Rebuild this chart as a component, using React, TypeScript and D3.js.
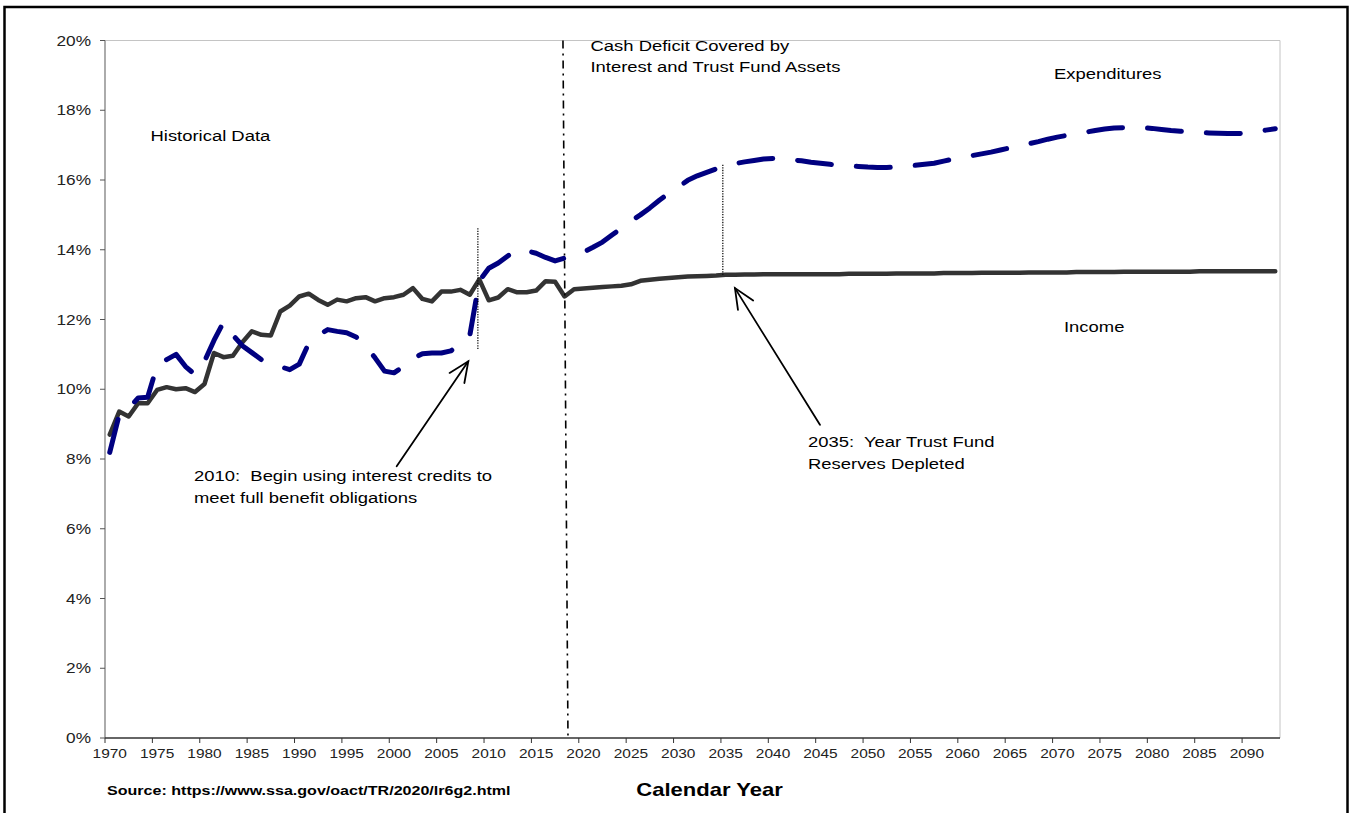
import * as d3 from "d3";

const width = 1351;
const height = 813;
const plotLeft = 105;
const plotRight = 1280;
const plotTop = 40.5;
const plotBottom = 738;

// lettering in the reference is drawn a little wider than plain Arial
const stretch = 1.19;
const font = "'Liberation Sans', Arial, sans-serif";

const navy = "#000080";
const charcoal = "#333333";

const firstYear = 1970;
const axisEnd = 2094; // right edge of the last (2093) category

// income rate, % of taxable payroll
const incomeHistorical = [
  8.7, 9.36, 9.22, 9.6, 9.6, 9.98, 10.06, 10.0, 10.03, 9.92,
  10.15, 11.04, 10.92, 10.96, 11.35, 11.66, 11.56, 11.54, 12.23, 12.4,
  12.66, 12.74, 12.56, 12.42, 12.57, 12.52, 12.61, 12.64, 12.52, 12.61,
  12.64, 12.71, 12.9, 12.59, 12.52, 12.8, 12.8, 12.85, 12.71, 13.15,
  12.55, 12.63, 12.87, 12.78, 12.78, 12.83, 13.1, 13.08, 12.66, 12.87,
];
const incomeProjected = [
  12.89, 12.91, 12.93, 12.95, 12.97, 13.01, 13.11, 13.14, 13.17, 13.19,
  13.21, 13.23, 13.24, 13.25, 13.26, 13.28, 13.28, 13.29, 13.29, 13.3,
  13.3, 13.3, 13.3, 13.3, 13.3, 13.3, 13.3, 13.3, 13.31, 13.31,
  13.31, 13.31, 13.31, 13.32, 13.32, 13.32, 13.32, 13.32, 13.33, 13.33,
  13.33, 13.33, 13.34, 13.34, 13.34, 13.34, 13.34, 13.35, 13.35, 13.35,
  13.35, 13.35, 13.36, 13.36, 13.36, 13.36, 13.36, 13.37, 13.37, 13.37,
  13.37, 13.37, 13.37, 13.37, 13.37, 13.38, 13.38, 13.38, 13.38, 13.38,
  13.38, 13.38, 13.38, 13.38,
];

// cost rate, % of taxable payroll
const expendHistorical = [
  8.19, 9.27, 9.45, 9.75, 9.77, 10.68, 10.85, 11.0, 10.65, 10.42,
  10.8, 11.4, 11.92, 11.55, 11.25, 11.05, 10.85, 10.72, 10.65, 10.56,
  10.72, 11.32, 11.55, 11.71, 11.66, 11.62, 11.5, 11.26, 10.9, 10.52,
  10.47, 10.65, 10.88, 11.02, 11.04, 11.04, 11.1, 11.3, 11.55, 13.1,
  13.47, 13.62, 13.82, 14.0, 13.97, 13.9, 13.78, 13.68, 13.76, 13.86,
];
const expendProjected = [
  13.93, 14.07, 14.22, 14.42, 14.62, 14.82, 15.0, 15.2, 15.42, 15.62,
  15.8, 15.99, 16.12, 16.22, 16.32, 16.4, 16.47, 16.52, 16.56, 16.6,
  16.62, 16.61, 16.58, 16.55, 16.51, 16.48, 16.45, 16.42, 16.4, 16.39,
  16.37, 16.36, 16.36, 16.37, 16.39, 16.42, 16.45, 16.48, 16.54, 16.6,
  16.65, 16.7, 16.75, 16.8, 16.86, 16.92, 16.98, 17.04, 17.1, 17.17,
  17.23, 17.28, 17.33, 17.37, 17.42, 17.46, 17.49, 17.5, 17.5, 17.5,
  17.48, 17.45, 17.42, 17.4, 17.38, 17.36, 17.35, 17.34, 17.33, 17.33,
  17.35, 17.38, 17.43, 17.47,
];

const xTickYears = [
  1970, 1975, 1980, 1985, 1990, 1995, 2000, 2005, 2010, 2015, 2020, 2025,
  2030, 2035, 2040, 2045, 2050, 2055, 2060, 2065, 2070, 2075, 2080, 2085, 2090,
];
const yTickValues = [0, 2, 4, 6, 8, 10, 12, 14, 16, 18, 20];

// annotation geometry, in axis units (year, percent)
const startOfDeficit = { top: 2018.33, bottom: 2018.86 };
const guideLines = [
  { year: 2009.35, low: 11.13, high: 14.62 },
  { year: 2035.2, low: 13.28, high: 16.44 },
];
const arrows = [
  { tail: [2000.78, 7.79], tip: [2008.34, 10.8] },
  { tail: [2045.45, 8.98], tip: [2036.48, 12.9] },
];

interface Point {
  year: number;
  value: number;
}

const toPoints = (values: number[]): Point[] =>
  values.map((value, i) => ({ year: firstYear + i, value }));

const income = toPoints([...incomeHistorical, ...incomeProjected]);
const expenditures = toPoints([...expendHistorical, ...expendProjected]);

const x = d3.scaleLinear().domain([firstYear, axisEnd]).range([plotLeft, plotRight]);
const y = d3.scaleLinear().domain([0, 20]).range([plotBottom, plotTop]);

// Excel category axis: points sit in the middle of each year's slot
const lineBuilder = d3
  .line<Point>()
  .x((d) => x(d.year + 0.5))
  .y((d) => y(d.value));

const Label = ({
  x: lx,
  y: ly,
  size,
  anchor = "start",
  weight = "normal",
  fill = "#000",
  children,
}: {
  x: number;
  y: number;
  size: number;
  anchor?: string;
  weight?: string;
  fill?: string;
  children: string;
}) => (
  <text
    transform={`translate(${lx},${ly}) scale(${stretch},1)`}
    fontSize={size}
    fontFamily={font}
    fontWeight={weight}
    textAnchor={anchor}
    fill={fill}
    style={{ whiteSpace: "pre" }}
  >
    {children}
  </text>
);

const Arrow = ({ tail, tip }: { tail: number[]; tip: number[] }) => {
  const t = [x(tip[0]), y(tip[1])];
  const s = [x(tail[0]), y(tail[1])];
  const ang = Math.atan2(s[1] - t[1], s[0] - t[0]);
  const spread = (24 * Math.PI) / 180;
  const len = 22;
  const legs = [ang - spread, ang + spread].map((a) => [
    t[0] + len * Math.cos(a),
    t[1] + len * Math.sin(a),
  ]);
  return (
    <g stroke="#000" strokeWidth={1.8} fill="none" strokeLinecap="round">
      <line x1={s[0]} y1={s[1]} x2={t[0]} y2={t[1]} />
      <path d={`M${legs[0][0]},${legs[0][1]}L${t[0]},${t[1]}L${legs[1][0]},${legs[1][1]}`} />
    </g>
  );
};

const App = () => {
  const halfSlot = (x(firstYear + 1) - x(firstYear)) / 2;

  return (
    <svg
      width={width}
      height={height}
      viewBox={`0 0 ${width} ${height}`}
      style={{ position: "absolute", left: 0, top: 0, background: "#fff" }}
    >
      <rect x={4.5} y={7} width={1343} height={840} fill="#fff" stroke="#000" strokeWidth={2.5} />

      {/* plot frame */}
      <line x1={plotLeft} x2={plotRight} y1={plotTop} y2={plotTop} stroke="#c4c4c4" />
      <line x1={plotRight} x2={plotRight} y1={plotTop} y2={plotBottom} stroke="#c4c4c4" />

      {/* y axis */}
      <line x1={plotLeft} x2={plotLeft} y1={plotTop} y2={plotBottom} stroke="#7f7f7f" strokeWidth={1.3} />
      {yTickValues.map((v) => (
        <g key={v}>
          <line x1={plotLeft - 5} x2={plotLeft} y1={y(v)} y2={y(v)} stroke="#555" />
          <Label x={91} y={y(v) + 5} size={14.5} anchor="end" fill="#222">
            {`${v}%`}
          </Label>
        </g>
      ))}

      {/* x axis */}
      <line x1={plotLeft} x2={plotRight} y1={plotBottom} y2={plotBottom} stroke="#333" strokeWidth={1.3} />
      {xTickYears.map((yr) => (
        <g key={yr}>
          <line x1={x(yr)} x2={x(yr)} y1={plotBottom} y2={plotBottom + 5} stroke="#333" />
          <Label x={x(yr) + halfSlot} y={758} size={13} anchor="middle" fill="#222">
            {String(yr)}
          </Label>
        </g>
      ))}

      {/* series */}
      <path
        d={lineBuilder(income) as string}
        fill="none"
        stroke={charcoal}
        strokeWidth={4.5}
        strokeLinejoin="round"
        strokeLinecap="round"
      />
      <path
        d={lineBuilder(expenditures) as string}
        fill="none"
        stroke={navy}
        strokeWidth={5}
        strokeDasharray="34 25"
        strokeLinejoin="round"
        strokeLinecap="round"
      />

      {/* annotations */}
      <line
        x1={x(startOfDeficit.top)}
        x2={x(startOfDeficit.bottom)}
        y1={y(20)}
        y2={y(0)}
        stroke="#000"
        strokeWidth={1.6}
        strokeDasharray="8 5 2 5"
      />
      {guideLines.map((g) => (
        <line
          key={g.year}
          x1={x(g.year)}
          x2={x(g.year)}
          y1={y(g.high)}
          y2={y(g.low)}
          stroke="#000"
          strokeWidth={1.2}
          strokeDasharray="1.3 1.3"
        />
      ))}
      {arrows.map((a, i) => (
        <Arrow key={i} tail={a.tail} tip={a.tip} />
      ))}

      <Label x={150.5} y={141} size={15.5}>Historical Data</Label>
      <Label x={590.5} y={51} size={15.5}>Cash Deficit Covered by</Label>
      <Label x={590.5} y={72} size={15.5}>Interest and Trust Fund Assets</Label>
      <Label x={1054} y={79} size={15.5}>Expenditures</Label>
      <Label x={1064} y={331.5} size={15.5}>Income</Label>
      <Label x={194} y={481} size={15.5}>2010:  Begin using interest credits to</Label>
      <Label x={194} y={503} size={15.5}>meet full benefit obligations</Label>
      <Label x={808} y={446.5} size={15.5}>2035:  Year Trust Fund</Label>
      <Label x={808} y={468.5} size={15.5}>Reserves Depleted</Label>

      <Label x={107} y={795} size={13.5} weight="bold">
        Source: https://www.ssa.gov/oact/TR/2020/lr6g2.html
      </Label>
      <Label x={709.5} y={796} size={18.5} anchor="middle" weight="bold">
        Calendar Year
      </Label>
    </svg>
  );
};

export default App;
